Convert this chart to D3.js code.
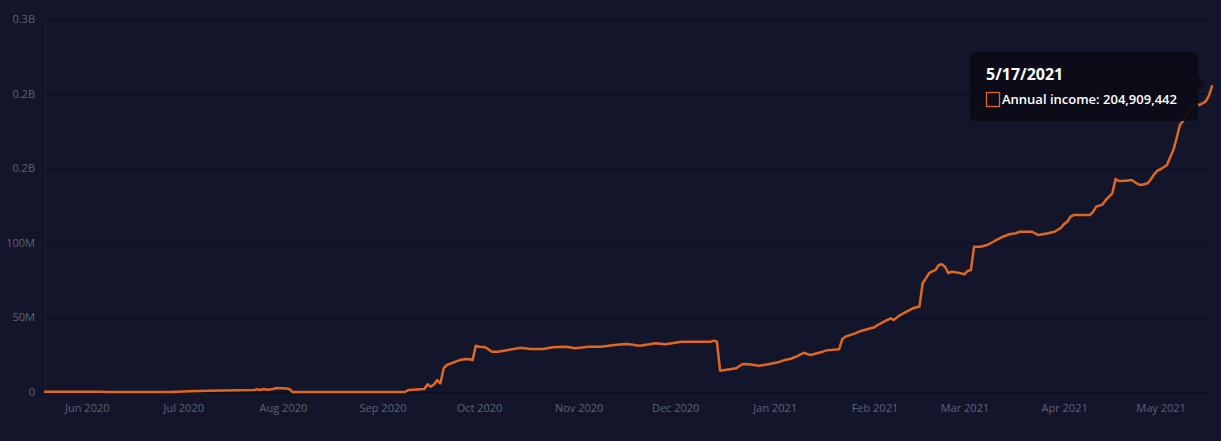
<!DOCTYPE html>
<html>
<head>
<meta charset="utf-8">
<script src="https://cdn.jsdelivr.net/npm/d3@7"></script>
<style>
  html, body { margin: 0; padding: 0; background: #13162b; }
  svg { display: block; }
</style>
</head>
<body>
<svg id="chart" width="1221" height="441"></svg>
<script>
// ---- data (values in millions) ----
const dates = [
"2020-05-19","2020-06-06","2020-06-07","2020-06-27","2020-07-03","2020-07-09","2020-07-18","2020-07-23","2020-07-24","2020-07-25",
"2020-07-26","2020-07-27","2020-07-29","2020-07-30","2020-08-02","2020-08-03","2020-08-04","2020-09-08","2020-09-09","2020-09-14",
"2020-09-15","2020-09-16","2020-09-17","2020-09-18","2020-09-19","2020-09-20","2020-09-21","2020-09-25","2020-09-27","2020-09-28",
"2020-09-29","2020-09-30","2020-10-01","2020-10-03","2020-10-05","2020-10-07","2020-10-10","2020-10-14","2020-10-17","2020-10-21",
"2020-10-24","2020-10-28","2020-10-31","2020-11-04","2020-11-08","2020-11-12","2020-11-16","2020-11-20","2020-11-25","2020-11-28",
"2020-12-03","2020-12-08","2020-12-12","2020-12-13","2020-12-14","2020-12-15","2020-12-20","2020-12-22","2020-12-24","2020-12-27",
"2020-12-30","2021-01-02","2021-01-04","2021-01-06","2021-01-08","2021-01-10","2021-01-12","2021-01-13","2021-01-16","2021-01-17",
"2021-01-21","2021-01-22","2021-01-23","2021-01-26","2021-01-28","2021-02-01","2021-02-02","2021-02-04","2021-02-06","2021-02-07",
"2021-02-09","2021-02-11","2021-02-13","2021-02-15","2021-02-16","2021-02-17","2021-02-18","2021-02-20","2021-02-21","2021-02-22",
"2021-02-23","2021-02-24","2021-02-25","2021-02-27","2021-03-01","2021-03-02","2021-03-03","2021-03-04","2021-03-06","2021-03-08",
"2021-03-10","2021-03-11","2021-03-13","2021-03-15","2021-03-17","2021-03-18","2021-03-22","2021-03-24","2021-03-27","2021-03-29",
"2021-03-31","2021-04-01","2021-04-02","2021-04-03","2021-04-04","2021-04-09","2021-04-10","2021-04-11","2021-04-13","2021-04-14",
"2021-04-16","2021-04-17","2021-04-18","2021-04-20","2021-04-22","2021-04-24","2021-04-25","2021-04-27","2021-04-28","2021-04-29",
"2021-04-30","2021-05-01","2021-05-03","2021-05-04","2021-05-05","2021-05-06","2021-05-07","2021-05-08","2021-05-09","2021-05-10",
"2021-05-11","2021-05-12","2021-05-13","2021-05-14","2021-05-15","2021-05-16","2021-05-17"
];
const annualIncome = [
0.2,0.2,0.0,0.0,0.5,0.9,1.1,1.3,1.8,1.3,
2.0,1.5,2.0,2.7,2.3,2.0,0.0,0.0,1.3,2.0,
5.2,3.6,5.0,8.0,5.8,15.9,18.1,21.4,22.1,22.0,
21.4,31.0,30.4,30.0,27.0,27.0,28.1,29.7,28.8,28.8,
30.0,30.4,29.3,30.4,30.4,31.5,32.2,31.0,32.6,32.0,
33.7,33.7,33.7,34.4,33.7,14.3,15.9,18.8,18.6,17.6,
18.6,19.9,21.4,22.3,24.1,26.3,24.8,25.3,27.0,27.9,
28.6,35.5,37.1,39.3,41.1,43.4,44.9,47.1,49.4,48.3,
51.6,53.8,56.1,57.3,72.9,76.2,79.6,81.8,85.1,85.6,
83.8,79.6,80.6,80.0,78.9,81.1,81.8,97.4,97.4,98.5,
100.7,101.9,104.1,105.7,106.4,107.4,107.4,105.2,106.4,107.4,
110.0,112.6,114.1,117.5,118.6,118.6,120.8,124.2,125.8,128.7,
133.2,142.8,141.4,141.6,142.1,139.2,138.7,139.9,142.6,145.9,
148.3,149.3,152.1,157.5,162.2,170.2,178.9,181.6,185.6,189.0,
191.7,193.0,192.3,193.4,194.6,198.4,204.909442
];
const yTickValues = [0, 50, 100, 150, 200, 250];
const yTickLabels = ["0", "50M", "100M", "0.2B", "0.2B", "0.3B"];
const xTickDates = ["2020-06-01","2020-07-01","2020-08-01","2020-09-01","2020-10-01","2020-11-01",
                    "2020-12-01","2021-01-01","2021-02-01","2021-03-01","2021-04-01","2021-05-01"];
const seriesName = "Annual income";
const tooltipDate = "5/17/2021";
const tooltipValue = "204,909,442";

// ---- layout ----
const W = 1221, H = 441;
const plotLeft = 45, plotRight = 1212, plotTop = 19, plotBottom = 392, gridRight = 1210;
const parse = d3.timeParse("%Y-%m-%d");
const data = dates.map((d, i) => ({ date: parse(d), value: annualIncome[i] }));

const svg = d3.select("#chart");
svg.append("rect").attr("width", W).attr("height", H).attr("fill", "#13162b");

const x = d3.scaleTime()
  .domain([data[0].date, data[data.length - 1].date])
  .range([plotLeft, plotRight]);
const y = d3.scaleLinear().domain([0, 250]).range([plotBottom, plotTop]);

const font = "'Open Sans', 'Noto Sans', sans-serif";

// y gridlines + labels
const yAxis = d3.axisLeft(y)
  .tickValues(yTickValues)
  .tickFormat((d, i) => yTickLabels[i])
  .tickSize(-(gridRight - plotLeft))
  .tickPadding(10);
const gy = svg.append("g").attr("transform", `translate(${plotLeft},0)`).call(yAxis);
gy.select(".domain").attr("stroke", "#1c2038").attr("stroke-width", 1);
gy.selectAll(".tick line").attr("stroke", "#0c0e1f").attr("stroke-width", 1);
gy.selectAll(".tick text")
  .attr("fill", "#5d6176").style("font-family", font).style("font-size", "11px");

// x axis labels
const xAxis = d3.axisBottom(x)
  .tickValues(xTickDates.map(parse))
  .tickFormat(d3.timeFormat("%b %Y"))
  .tickSize(0)
  .tickPadding(12);
const gx = svg.append("g").attr("transform", `translate(0,${plotBottom})`).call(xAxis);
gx.select(".domain").remove();
gx.selectAll(".tick text")
  .attr("fill", "#5d6176").style("font-family", font).style("font-size", "11px");

// line
const line = d3.line().x(d => x(d.date)).y(d => y(d.value)).curve(d3.curveLinear);
svg.append("path").datum(data)
  .attr("d", line)
  .attr("fill", "none")
  .attr("stroke", "#e0671f")
  .attr("stroke-width", 2.5)
  .attr("stroke-linejoin", "round")
  .attr("stroke-linecap", "round");

// tooltip
const tt = svg.append("g");
tt.append("rect")
  .attr("x", 970).attr("y", 52).attr("width", 228).attr("height", 69)
  .attr("rx", 4).attr("fill", "#0b0c17").attr("opacity", 0.95);
tt.append("path")
  .attr("d", "M1197,75 L1205,83 L1197,91 Z")
  .attr("fill", "#0b0c17").attr("opacity", 0.95);
tt.append("text")
  .attr("x", 986).attr("y", 80)
  .attr("fill", "#ffffff")
  .style("font-family", font).style("font-size", "16px").style("font-weight", "700")
  .text(tooltipDate);
tt.append("rect")
  .attr("x", 986.5).attr("y", 92.5).attr("width", 13).attr("height", 14)
  .attr("fill", "none").attr("stroke", "#e0671f").attr("stroke-width", 1.3);
tt.append("text")
  .attr("x", 1002).attr("y", 104)
  .attr("fill", "#ffffff")
  .style("font-family", font).style("font-size", "13px").style("font-weight", "600")
  .text(`${seriesName}: ${tooltipValue}`);
</script>
</body>
</html>
